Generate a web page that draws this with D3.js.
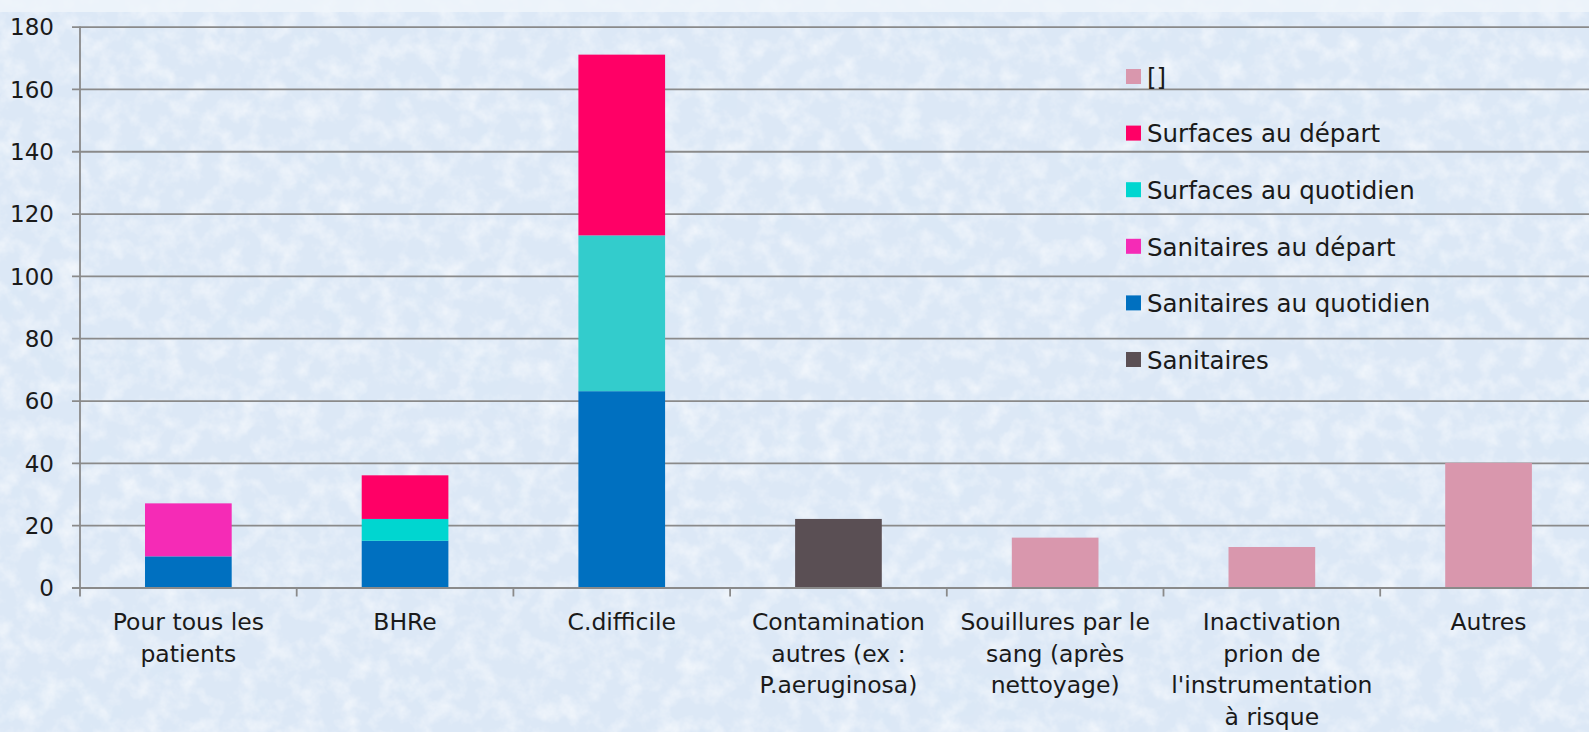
<!DOCTYPE html>
<html>
<head>
<meta charset="utf-8">
<script src="https://cdn.jsdelivr.net/npm/d3@7"></script>
<style>
  html, body { margin: 0; padding: 0; background: #dbe8f6; overflow: hidden; }
  svg { display: block; }
  text { font-family: 'DejaVu Sans', sans-serif; fill: #1a1a1a; }
</style>
</head>
<body>
<svg id="chart" width="1589" height="732"></svg>
<script>
// ── Data ─────────────────────────────────────────────
const categories = [
  ['Pour tous les', 'patients'],
  ['BHRe'],
  ['C.difficile'],
  ['Contamination', 'autres (ex :', 'P.aeruginosa)'],
  ['Souillures par le', 'sang (après', 'nettoyage)'],
  ['Inactivation', 'prion de', "l'instrumentation", 'à risque'],
  ['Autres'],
];
// stacking order, bottom to top
const seriesNames = ['Sanitaires', 'Sanitaires au quotidien', 'Sanitaires au départ', 'Surfaces au quotidien', 'Surfaces au départ', '[]'];
const sanitaires          = [0, 0, 0, 22, 0, 0, 0];
const sanitairesQuotidien = [10, 15, 63, 0, 0, 0, 0];
const sanitairesDepart    = [17, 0, 0, 0, 0, 0, 0];
const surfacesQuotidien   = [0, 7, 50, 0, 0, 0, 0];
const surfacesDepart      = [0, 14, 58, 0, 0, 0, 0];
const vide                = [0, 0, 0, 0, 16, 13, 40];
const yTicks = [0, 20, 40, 60, 80, 100, 120, 140, 160, 180];

const seriesValues = [sanitaires, sanitairesQuotidien, sanitairesDepart, surfacesQuotidien, surfacesDepart, vide];
const colors = {
  'Sanitaires': '#5a4f54',
  'Sanitaires au quotidien': '#0070c0',
  'Sanitaires au départ': '#f52bb6',
  'Surfaces au quotidien': '#00d6d0',
  'Surfaces au départ': '#ff0066',
  '[]': '#d997ad',
};
// the C.difficile point of "Surfaces au quotidien" has its own fill
const pointColors = { 'Surfaces au quotidien|2': '#33cccc' };
const legendOrder = ['[]', 'Surfaces au départ', 'Surfaces au quotidien', 'Sanitaires au départ', 'Sanitaires au quotidien', 'Sanitaires'];

// ── Setup ────────────────────────────────────────────
const W = 1589, H = 732;
const svg = d3.select('#chart');
const left = 80, catW = 216.7;
const right = left + catW * categories.length;
const y0 = 587.5, yTop = 26.6;

// background texture
const defs = svg.append('defs');
const f1 = defs.append('filter').attr('id', 'tex').attr('x', 0).attr('y', 0).attr('width', '100%').attr('height', '100%');
f1.append('feTurbulence').attr('type', 'fractalNoise').attr('baseFrequency', 0.05).attr('numOctaves', 4).attr('seed', 7);
f1.append('feColorMatrix').attr('type', 'matrix')
  .attr('values', '0 0 0 0 1  0 0 0 0 1  0 0 0 0 1  1.2 0 0 0 -0.5');
const f2 = defs.append('filter').attr('id', 'tex2').attr('x', 0).attr('y', 0).attr('width', '100%').attr('height', '100%');
f2.append('feTurbulence').attr('type', 'fractalNoise').attr('baseFrequency', 0.015).attr('numOctaves', 3).attr('seed', 21);
f2.append('feColorMatrix').attr('type', 'matrix')
  .attr('values', '0 0 0 0 0.70  0 0 0 0 0.80  0 0 0 0 0.93  0 1.2 0 0 -0.55');

svg.append('rect').attr('width', W).attr('height', H).attr('fill', '#dce8f6');
svg.append('rect').attr('width', W).attr('height', H).attr('filter', 'url(#tex2)');
svg.append('rect').attr('width', W).attr('height', H).attr('filter', 'url(#tex)');
svg.append('rect').attr('width', W).attr('height', 12).attr('fill', '#eff4fa').attr('opacity', 0.85);

// ── Scales ───────────────────────────────────────────
const x = d3.scaleBand().domain(d3.range(categories.length)).range([left, right]).paddingInner(0).paddingOuter(0);
const y = d3.scaleLinear().domain([0, 180]).range([y0, yTop]);
const barW = x.bandwidth() * 0.4;

// gridlines + y axis
const yAxis = d3.axisLeft(y).tickValues(yTicks).tickSize(-(right - left)).tickPadding(0).tickFormat(d3.format('d'));
const gy = svg.append('g').attr('transform', `translate(${left},0)`).call(yAxis);
gy.select('.domain').remove();
gy.selectAll('.tick line').attr('stroke', '#8a8a8a').attr('stroke-width', 1.8).attr('x1', -8);
gy.selectAll('.tick text').attr('x', -26).attr('dy', '0.36em')
  .style('font-size', '23px').style('font-family', "'DejaVu Sans', sans-serif").attr('fill', '#1a1a1a');

// ── Bars ─────────────────────────────────────────────
const stacked = d3.stack().keys(d3.range(seriesNames.length))
  .value((d, k) => seriesValues[k][d])(d3.range(categories.length));

svg.append('g').selectAll('g')
  .data(stacked)
  .join('g')
  .selectAll('rect')
  .data((s, si) => s.map((p, i) => ({ p, i, name: seriesNames[si] })).filter(d => d.p[1] > d.p[0]))
  .join('rect')
  .attr('x', d => x(d.i) + (x.bandwidth() - barW) / 2)
  .attr('width', barW)
  .attr('y', d => y(d.p[1]))
  .attr('height', d => y(d.p[0]) - y(d.p[1]))
  .attr('fill', d => pointColors[`${d.name}|${d.i}`] || colors[d.name]);

// x axis line + ticks
const xAxis = d3.axisBottom(x).tickSize(0).tickFormat('');
svg.append('g').attr('transform', `translate(0,${y0})`).call(xAxis)
  .call(g => g.select('.domain').attr('stroke', '#8a8a8a').attr('stroke-width', 1.8));
svg.append('line').attr('x1', left).attr('x2', left).attr('y1', yTop).attr('y2', y0 + 9)
  .attr('stroke', '#8a8a8a').attr('stroke-width', 1.8);
svg.append('g').selectAll('line')
  .data(d3.range(1, categories.length + 1))
  .join('line')
  .attr('x1', i => left + i * x.step()).attr('x2', i => left + i * x.step())
  .attr('y1', y0).attr('y2', y0 + 9)
  .attr('stroke', '#8a8a8a').attr('stroke-width', 1.8);

// category labels
svg.append('g').selectAll('text')
  .data(categories)
  .join('text')
  .attr('text-anchor', 'middle')
  .style('font-size', '23.5px')
  .each(function (lines, i) {
    d3.select(this).selectAll('tspan')
      .data(lines)
      .join('tspan')
      .attr('x', x(i) + x.bandwidth() / 2)
      .attr('y', (d, j) => 630 + j * 31.5)
      .text(d => d);
  });

// ── Legend ───────────────────────────────────────────
const legend = svg.append('g').attr('transform', 'translate(1126,77)');
const item = legend.selectAll('g')
  .data(legendOrder)
  .join('g')
  .attr('transform', (d, i) => `translate(0,${i * 56.6})`);
item.append('rect').attr('x', 0).attr('y', -8).attr('width', 15).attr('height', 15).attr('fill', d => colors[d]);
item.append('text').attr('x', 21).attr('dy', '0.36em').style('font-size', '24.5px').text(d => d);
</script>
</body>
</html>
